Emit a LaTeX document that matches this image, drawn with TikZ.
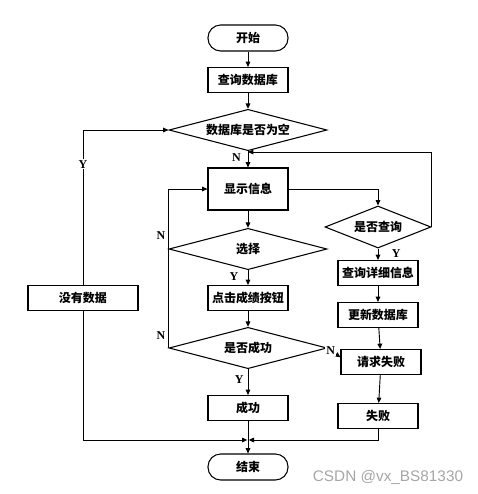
\documentclass[tikz,border=0pt]{standalone}
\usepackage{fontspec}
\setmainfont{Liberation Serif}
\newfontfamily\cjk{Noto Sans CJK SC}
\newfontfamily\wmfont{Liberation Sans}
\usetikzlibrary{shapes.geometric,arrows.meta}
\tikzset{
  base/.style={draw, line width=0.8pt, font=\cjk\bfseries\fontsize{9}{11}\selectfont, inner sep=0pt, align=center},
  box/.style={base, rectangle, minimum width=60pt, minimum height=18.75pt},
  term/.style={box, rounded corners=9.5pt, minimum height=19.5pt},
  decision/.style={base, diamond, aspect=3, minimum width=118.5pt, minimum height=31pt},
  arr/.style={line width=0.7pt, -{Triangle[length=4pt,width=3.5pt]}},
  yn/.style={font=\bfseries\fontsize{9}{11}\selectfont, inner sep=1pt}
}
\begin{document}
\begin{tikzpicture}[x=0.75pt,y=-0.75pt]
\useasboundingbox (0,0) rectangle (478,494);
\node[term] (start) at (248,38) {开始};
\node[box] (query) at (248,80) {查询数据库};
\node[decision] (empty) at (248,130) {数据库是否为空};
\node[box, minimum height=31.5pt] (show) at (248,189) {显示信息};
\node[decision] (choose) at (248,249) {选择};
\node[box] (click) at (248,298) {点击成绩按钮};
\node[decision] (succq) at (248,348) {是否成功};
\node[box] (succ) at (248,408) {成功};
\node[term] (end) at (248,467) {结束};
\node[box, minimum width=82.5pt] (nodata) at (83,298) {没有数据};
\node[decision, minimum width=79.5pt, minimum height=31.5pt, aspect=2.5] (ask) at (378,227) {是否查询};
\node[box] (detail) at (378,273) {查询详细信息};
\node[box] (update) at (378,315) {更新数据库};
\node[box] (reqfail) at (381,362) {请求失败};
\node[box] (fail) at (378,416) {失败};
\coordinate (back) at (248,152);
\coordinate (join) at (248,440);
\draw[arr] (start) -- (query);
\draw[arr] (query) -- (empty);
\draw[arr] (nodata.north) |- node[yn, pos=0.39, fill=white] {Y} (empty.west);
\draw[arr] (empty.south) -- node[yn, left, pos=0.4, xshift=-4pt] {N} (show.north);
\draw[arr] (show.east) -| (ask.north);
\draw[arr] (ask.east) |- (back);
\draw[arr] (ask.south) -- node[yn, right, xshift=9pt, pos=0.4] {Y} (detail.north);
\draw[arr] (detail) -- (update);
\draw[arr] (update) -- (reqfail);
\draw[arr] (reqfail) -- (fail);
\draw[arr] (show) -- (choose);
\draw[arr] (choose.south) -- node[yn, left, pos=0.4, xshift=-6pt] {Y} (click.north);
\draw[arr] (click) -- (succq);
\draw[arr] (succq.west) |- (show.west);
\node[yn] (nchoose) at (161,236) {N};
\node[yn] (nsucc) at (161,336) {N};
\draw[arr] (succq.east) -- node[yn, pos=0.25, fill=white] {N} ([yshift=3.5pt]reqfail.west);
\draw[arr] (succq.south) -- node[yn, left, pos=0.4, xshift=-2pt] {Y} (succ.north);
\draw[arr] (succ) -- (end);
\draw[arr] (nodata.south) |- ([xshift=-0.5pt]join);
\draw[arr] (fail.south) |- ([xshift=0.5pt]join);
\node[font=\wmfont\fontsize{11.5}{13}\selectfont, text=gray!70] (mark) at (388,477) {CSDN @vx\_BS81330};
\end{tikzpicture}
\end{document}
